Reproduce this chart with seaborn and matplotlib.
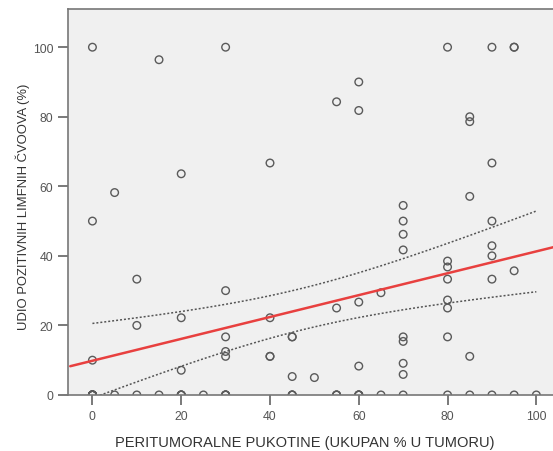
import numpy as np
import pandas as pd
import matplotlib
matplotlib.use("Agg")
import matplotlib.pyplot as plt
import seaborn as sns

# data (x = peritumoral cracks %, y = positive lymph nodes %)
# zeros along the x axis overlap heavily, so several repeat
x_vals = [0, 0, 0, 0, 0, 0, 0, 0, 0, 0, 0, 0, 0, 0, 0,
          5, 5,
          10, 10, 10,
          15, 15,
          20, 20, 20, 20, 20, 20, 20,
          25,
          30, 30, 30, 30, 30, 30, 30, 30, 30,
          40, 40, 40, 40,
          45, 45, 45, 45, 45, 45,
          50,
          55, 55, 55, 55, 55,
          60, 60, 60, 60, 60, 60, 60, 60,
          65, 65,
          70, 70, 70, 70, 70, 70, 70, 70, 70,
          80, 80, 80, 80, 80, 80, 80, 80,
          85, 85, 85, 85, 85,
          90, 90, 90, 90, 90, 90, 90,
          95, 95, 95, 95,
          100]
y_vals = [100, 50, 10, 0, 0, 0, 0, 0, 0, 0, 0, 0, 0, 0, 0,
          58.2, 0,
          33.3, 20, 0,
          96.4, 0,
          63.6, 22.2, 7.1, 0, 0, 0, 0,
          0,
          100, 30, 16.7, 12.5, 11.1, 0, 0, 0, 0,
          66.7, 22.2, 11.1, 11.1,
          16.7, 16.7, 5.3, 0, 0, 0,
          5,
          84.3, 25, 0, 0, 0,
          90, 81.8, 26.7, 8.3, 0, 0, 0, 0,
          29.4, 0,
          54.5, 50, 46.2, 41.7, 16.7, 15.4, 9.1, 5.9, 0,
          100, 38.5, 36.8, 33.3, 27.3, 25, 16.7, 0,
          80, 78.6, 57.1, 11.1, 0,
          100, 66.7, 50, 42.9, 40, 33.3, 0,
          100, 100, 35.7, 0,
          0]

df = pd.DataFrame({"x": x_vals, "y": y_vals})

# linear fit + 95% CI of the mean
x = df["x"].to_numpy(float)
y = df["y"].to_numpy(float)
n = len(x)
b1, b0 = np.polyfit(x, y, 1)
resid = y - (b0 + b1 * x)
s = np.sqrt((resid ** 2).sum() / (n - 2))
sxx = ((x - x.mean()) ** 2).sum()
xg = np.linspace(0, 100, 101)
se = s * np.sqrt(1 / n + (xg - x.mean()) ** 2 / sxx)
t = 1.985
ci_lo = b0 + b1 * xg - t * se
ci_hi = b0 + b1 * xg + t * se

sns.set_style("white")
plt.rcParams['font.family'] = ['Liberation Sans', 'DejaVu Sans']

fig = plt.figure(figsize=(5.53, 4.52), dpi=100)
ax = fig.add_axes([0.123, 0.124, 0.887, 0.854])
ax.set_facecolor("#f0f0f0")

sns.scatterplot(data=df, x="x", y="y", ax=ax, marker="o", s=30,
                facecolors="none", edgecolor="#5a5a5a", linewidth=1.0)
sns.regplot(data=df, x="x", y="y", ax=ax, scatter=False, ci=None,
            truncate=False, line_kws={"color": "#e8403f", "lw": 1.8})
ax.plot(xg, ci_lo, ls=(0, (1.3, 1.3)), color="#555555", lw=1.1)
ax.plot(xg, ci_hi, ls=(0, (1.3, 1.3)), color="#555555", lw=1.1)

ax.set_xlim(-5.5, 105)
ax.set_ylim(0, 111)
ax.set_xticks([0, 20, 40, 60, 80, 100])
ax.set_yticks([0, 20, 40, 60, 80, 100])
for sp in ax.spines.values():
    sp.set_color("#777777")
    sp.set_linewidth(1.2)
ax.tick_params(axis="both", direction="out", length=7, width=1.1,
               color="#555555", labelcolor="#555555", labelsize=8.8,
               left=True, bottom=True)
ax.set_xlabel("PERITUMORALNE PUKOTINE (UKUPAN % U TUMORU)", fontsize=10.5,
              color="#333333", labelpad=10)
ax.xaxis.label.set_x(0.483)
ax.set_ylabel("UDIO POZITIVNIH LIMFNIH ČVOOVA (%)", fontsize=9.4,
              color="#333333")
ax.yaxis.set_label_coords(-0.077, 0.49)

fig.savefig("out.png", dpi=100)
